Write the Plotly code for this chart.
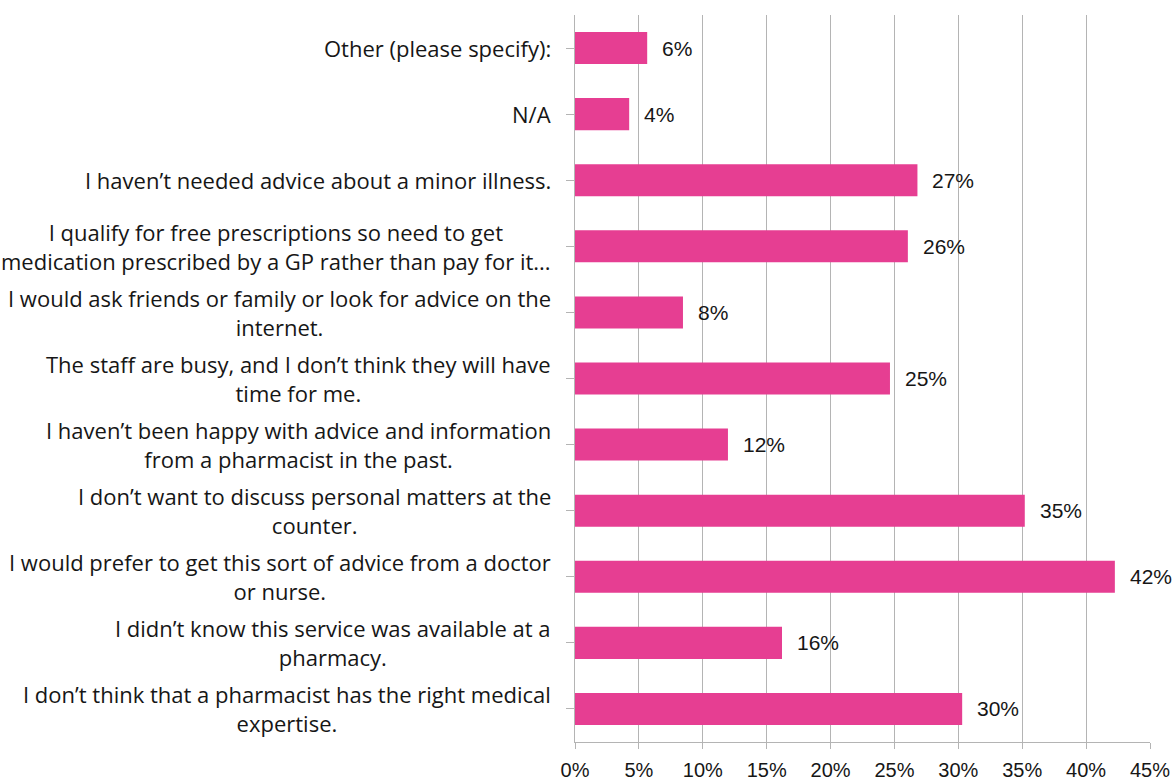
import plotly.graph_objects as go

# Survey responses, listed top to bottom as displayed
reasons = [
    "Other (please specify):",
    "N/A",
    "I haven’t needed advice about a minor illness.",
    "I qualify for free prescriptions so need to get<br>medication prescribed by a GP rather than pay for it...",
    "I would ask friends or family or look for advice on the<br>internet.",
    "The staff are busy, and I don’t think they will have<br>time for me.",
    "I haven’t been happy with advice and information<br>from a pharmacist in the past.",
    "I don’t want to discuss personal matters at the<br>counter.",
    "I would prefer to get this sort of advice from a doctor<br>or nurse.",
    "I didn’t know this service was available at a<br>pharmacy.",
    "I don’t think that a pharmacist has the right medical<br>expertise.",
]
shares = [5.65, 4.24, 26.8, 26.05, 8.45, 24.65, 11.97, 35.2, 42.25, 16.2, 30.3]

x_ticks = [0, 5, 10, 15, 20, 25, 30, 35, 40, 45]

bar_color = "#E63E92"
grid_color = "#B4B4B4"
label_font = dict(family="Open Sans", size=22, color="#161616")
value_font = dict(family="Liberation Sans, Arial", size=21, color="#161616")

ids = list(range(len(reasons)))

fig = go.Figure(
    go.Bar(
        x=shares,
        y=ids,
        orientation="h",
        marker=dict(color=bar_color, line=dict(width=0)),
        width=0.485,
        hoverinfo="skip",
    )
)

annotations = []
for i, (txt, v) in enumerate(zip(reasons, shares)):
    # category label, lines centred within the block
    annotations.append(dict(
        x=0, xref="paper", y=i, yref="y",
        xanchor="right", yanchor="middle", xshift=-22,
        text=txt, align="center", showarrow=False, font=label_font,
    ))
    # value label just beyond the bar end
    annotations.append(dict(
        x=v, xref="x", y=i, yref="y",
        xanchor="left", yanchor="middle", xshift=13,
        text=f"{v:.0f}%", showarrow=False, font=value_font,
    ))

fig.update_layout(
    width=1176, height=780,
    margin=dict(l=575, r=26, t=15, b=38),
    paper_bgcolor="white", plot_bgcolor="white",
    showlegend=False,
    annotations=annotations,
    xaxis=dict(
        range=[0, 45],
        tickvals=x_ticks,
        ticktext=[f"{t}%" for t in x_ticks],
        showgrid=True, gridcolor=grid_color, gridwidth=1,
        zeroline=False,
        showline=True, linecolor=grid_color, linewidth=1,
        ticks="outside", ticklen=6, tickcolor=grid_color,
        ticklabelstandoff=4,
        tickfont=dict(family="Liberation Sans, Arial", size=20, color="#161616"),
        automargin=False,
        fixedrange=True,
    ),
    yaxis=dict(
        tickmode="array", tickvals=ids, ticktext=[""] * len(ids),
        range=[len(ids) - 0.5, -0.5],
        tickson="boundaries",
        ticks="outside", ticklen=8, tickcolor=grid_color,
        showgrid=False, zeroline=False,
        showline=True, linecolor=grid_color, linewidth=1,
        showticklabels=False,
        automargin=False,
        fixedrange=True,
    ),
)

fig.write_html("out.html")
